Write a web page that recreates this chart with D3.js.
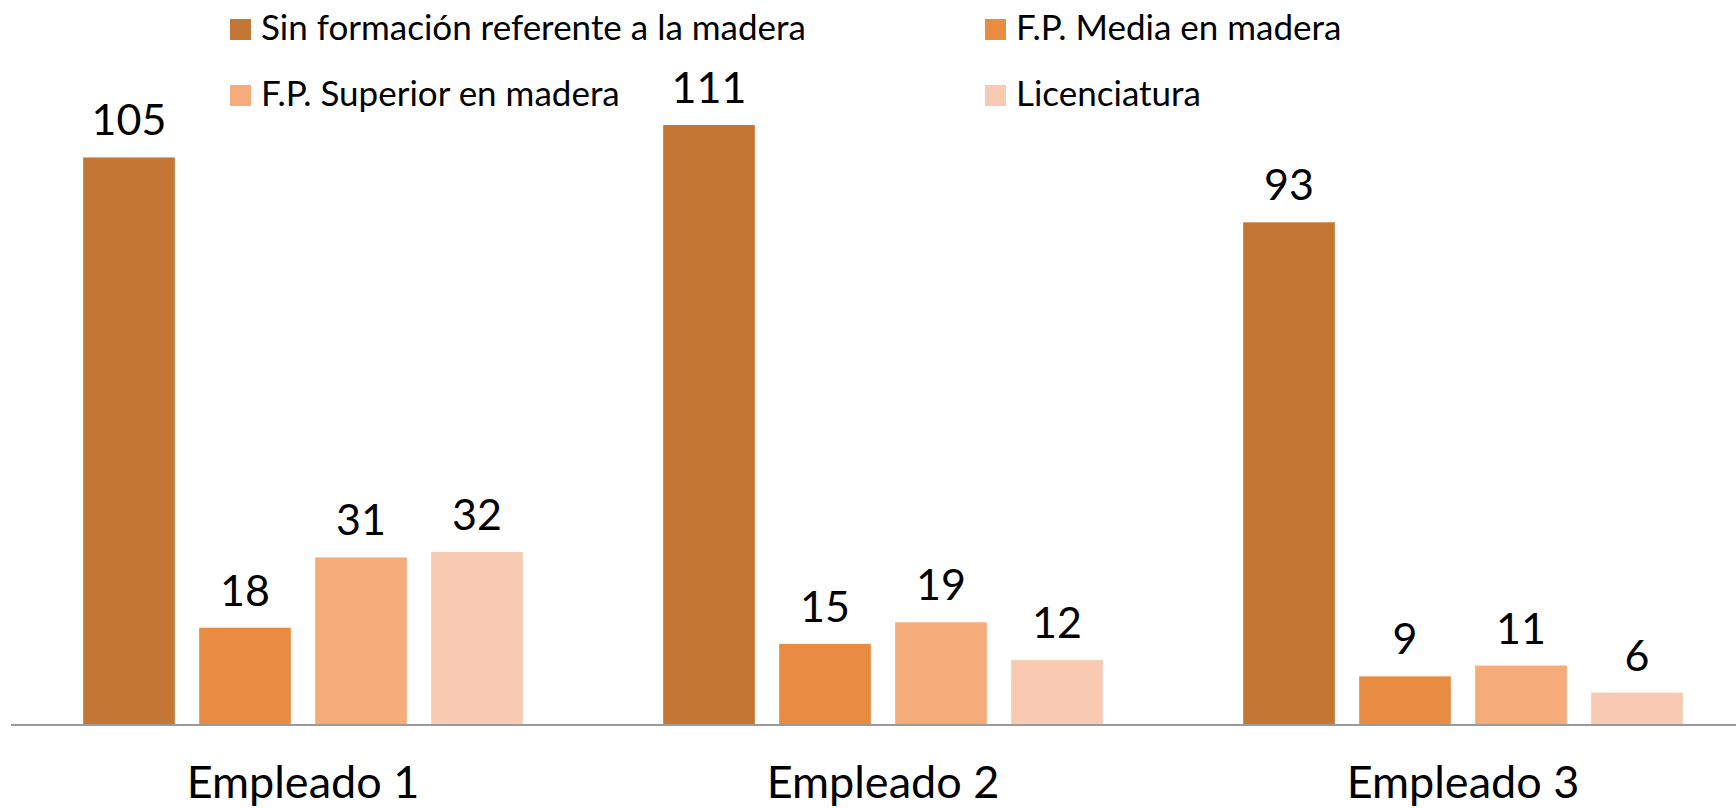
<!DOCTYPE html>
<html>
<head>
<meta charset="utf-8">
<script src="https://cdn.jsdelivr.net/npm/d3@7"></script>
<style>
  html, body { margin: 0; padding: 0; background: #fff; }
  svg { display: block; font-family: Lato, "Open Sans", sans-serif; }
</style>
</head>
<body>
<svg width="1736" height="808"></svg>
<script>
// chart data
var categories = ["Empleado 1", "Empleado 2", "Empleado 3"];
var seriesNames = ["Sin formación referente a la madera", "F.P. Media en madera", "F.P. Superior en madera", "Licenciatura"];
var sinFormacion = [105, 111, 93];
var fpMedia = [18, 15, 9];
var fpSuperior = [31, 19, 11];
var licenciatura = [32, 12, 6];

var seriesValues = [sinFormacion, fpMedia, fpSuperior, licenciatura];
var colors = ["#c47634", "#e78c41", "#f6ab7a", "#f8cab2"];

var svg = d3.select("svg");

var x0 = d3.scaleBand()
    .domain(categories)
    .range([13, 1753]);

var x1 = d3.scaleBand()
    .domain(seriesNames)
    .range([0, x0.bandwidth()])
    .paddingInner(0.21)
    .paddingOuter(0.605);

var y = d3.scaleLinear()
    .domain([0, 111])
    .range([725, 125]);

var rows = [];
categories.forEach(function(c, i) {
    seriesNames.forEach(function(s, j) {
        rows.push({cat: c, series: s, idx: j, value: seriesValues[j][i]});
    });
});

var g = svg.append("g");

g.selectAll("rect.bar")
    .data(rows)
    .enter().append("rect")
    .attr("class", "bar")
    .attr("x", function(d) { return x0(d.cat) + x1(d.series); })
    .attr("y", function(d) { return y(d.value); })
    .attr("width", x1.bandwidth())
    .attr("height", function(d) { return y(0) - y(d.value); })
    .attr("fill", function(d) { return colors[d.idx]; });

g.selectAll("text.lbl")
    .data(rows)
    .enter().append("text")
    .attr("class", "lbl")
    .attr("x", function(d) { return x0(d.cat) + x1(d.series) + x1.bandwidth() / 2; })
    .attr("y", function(d) { return y(d.value) - 22; })
    .attr("text-anchor", "middle")
    .attr("font-size", 43)
    .attr("fill", "#000")
    .text(function(d) { return d.value; });

// x axis
var xAxis = svg.append("g")
    .attr("transform", "translate(0," + y(0) + ")")
    .call(d3.axisBottom(x0).tickSize(0).tickPadding(0));
xAxis.select(".domain").remove();
xAxis.append("line")
    .attr("x1", 11).attr("x2", 1736)
    .attr("stroke", "#9a9a9a")
    .attr("stroke-width", 2);
xAxis.selectAll(".tick text")
    .attr("y", 73)
    .attr("dy", 0)
    .attr("font-size", 45)
    .attr("font-family", "Lato, sans-serif")
    .attr("fill", "#000");

// legend
var legendPos = [[230, 19], [985, 19], [230, 85], [985, 85]];
var legend = svg.append("g").selectAll("g")
    .data(seriesNames)
    .enter().append("g")
    .attr("transform", function(d, i) { return "translate(" + legendPos[i][0] + "," + legendPos[i][1] + ")"; });
legend.append("rect")
    .attr("width", 21).attr("height", 21)
    .attr("fill", function(d, i) { return colors[i]; });
legend.append("text")
    .attr("x", 31)
    .attr("y", 21)
    .attr("font-size", 35)
    .attr("fill", "#000")
    .text(function(d) { return d; });
</script>
</body>
</html>
